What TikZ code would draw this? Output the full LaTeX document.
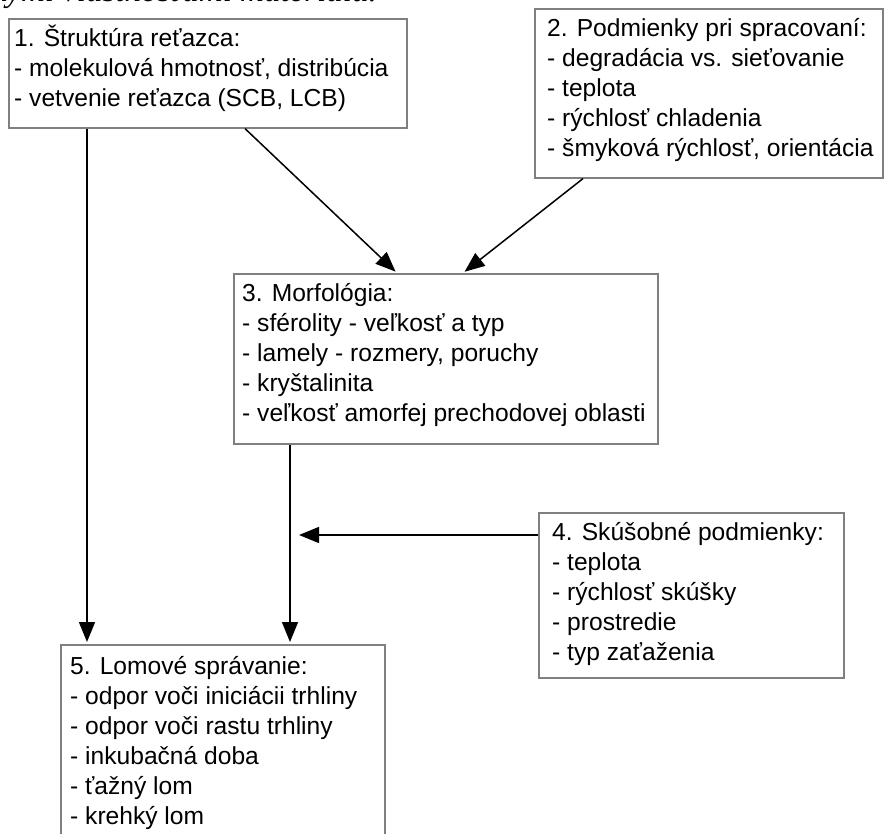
\documentclass[tikz,border=0pt]{standalone}
\usepackage{fontspec}
\setmainfont{Liberation Sans}
\newfontfamily\docserif{Liberation Serif}
\usetikzlibrary{arrows.meta,positioning}

\newcommand{\firstline}{\rule{0pt}{24pt}}

\begin{document}
\begin{tikzpicture}[x=1pt,y=-1pt,
  box/.style={draw=black!50,line width=1.6pt,fill=white,inner sep=0pt,anchor=north west},
  txt/.style={inner sep=0pt,align=left,font=\fontsize{24.6}{30}\selectfont},
  arr/.style={-{Triangle[length=20pt,width=16pt]},line width=1.5pt,shorten >=2pt}]
\useasboundingbox (0,0) rectangle (885,834);
\clip (0,0) rectangle (885,834);
\node[anchor=base east,inner sep=0pt,font=\docserif\itshape\fontsize{33}{40}\selectfont] (head) at (377,2) {kými vlastnosťami materiálu.};

\node[box,minimum width=398pt,minimum height=109pt] (s_1) at (8,18) {};
\node[box,minimum width=348pt,minimum height=169pt] (s_2) at (534,8) {};
\node[box,minimum width=424pt,minimum height=170pt] (s_3) at (233,273) {};
\node[box,minimum width=305pt,minimum height=165pt] (s_4) at (538,512) {};
\node[box,minimum width=324pt,minimum height=210pt] (s_5) at (60,644) {};

\node[txt,below right=4pt and 6pt of s_1.north west] (t_1) {\firstline1. Štruktúra reťazca:\\
- molekulová hmotnosť, distribúcia\\
- vetvenie reťazca (SCB, LCB)};
\node[txt,below right=4pt and 13pt of s_2.north west] (t_2) {\firstline2. Podmienky pri spracovaní:\\
- degradácia vs. sieťovanie\\
- teplota\\
- rýchlosť chladenia\\
- šmyková rýchlosť, orientácia};
\node[txt,below right=4pt and 9pt of s_3.north west] (t_3) {\firstline3. Morfológia:\\
- sférolity - veľkosť a typ\\
- lamely - rozmery, poruchy\\
- kryštalinita\\
- veľkosť amorfej prechodovej oblasti};
\node[txt,below right=4pt and 14pt of s_4.north west] (t_4) {\firstline4. Skúšobné podmienky:\\
- teplota\\
- rýchlosť skúšky\\
- prostredie\\
- typ zaťaženia};
\node[txt,below right=6pt and 10pt of s_5.north west] (t_5) {\firstline5. Lomové správanie:\\
- odpor voči iniciácii trhliny\\
- odpor voči rastu trhliny\\
- inkubačná doba\\
- ťažný lom\\
- krehký lom};

\coordinate (d_3) at ([xshift=57pt]s_3.south west);
\coordinate (j_4) at ([yshift=-23pt]s_4.north west);
\coordinate (m_4) at (d_3 |- j_4);

\draw[arr] ([xshift=237pt]s_1.south west) -- ([xshift=164pt]s_3.north west);
\draw[arr] ([xshift=49pt]s_2.south west) -- ([xshift=230pt]s_3.north west);
\draw[arr] ([xshift=79pt]s_1.south west) -- ([xshift=27pt]s_5.north west);
\draw[arr] (d_3) -- ([xshift=230pt]s_5.north west);
\draw[arr] (j_4) -- ([xshift=7pt]m_4);
\end{tikzpicture}
\end{document}
